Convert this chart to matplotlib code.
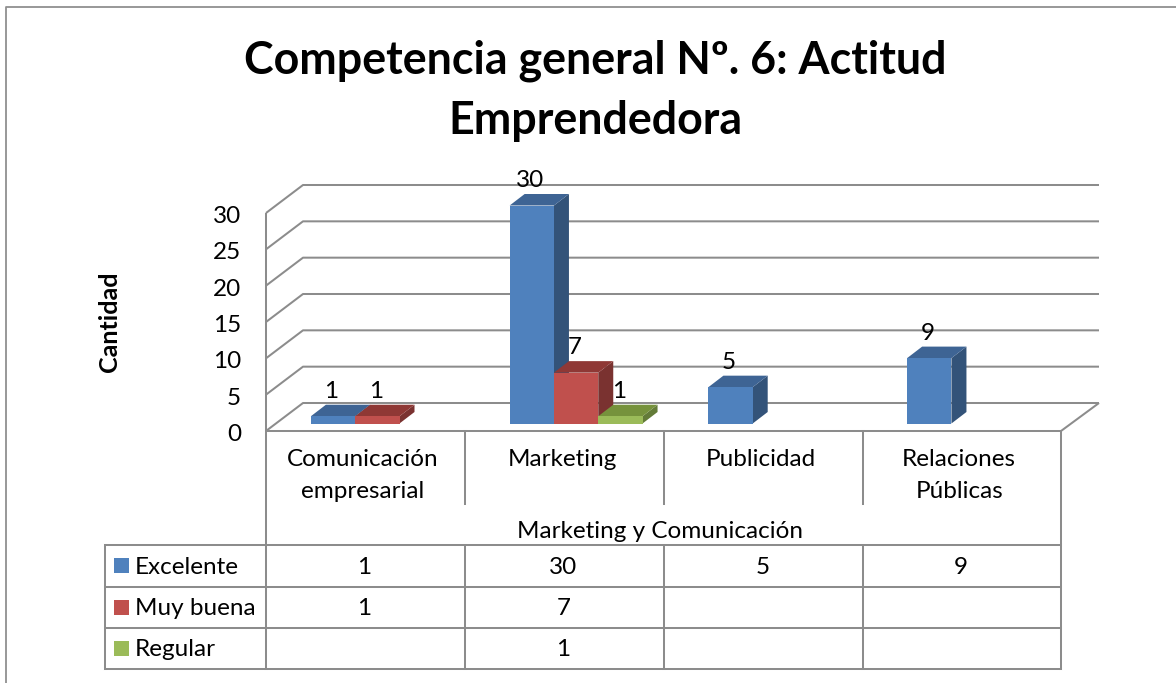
import matplotlib
matplotlib.use("Agg")
import matplotlib.pyplot as plt
from matplotlib.patches import Polygon, Rectangle

title_lines = ["Competencia general Nº. 6: Actitud", "Emprendedora"]
categories = ["Comunicación\nempresarial", "Marketing", "Publicidad", "Relaciones\nPúblicas"]
group_label = "Marketing y Comunicación"
y_label = "Cantidad"
y_ticks = [0, 5, 10, 15, 20, 25, 30]
series_names = ["Excelente", "Muy buena", "Regular"]
excelente = [1, 30, 5, 9]
muy_buena = [1, 7, None, None]
regular = [None, 1, None, None]
series_values = [excelente, muy_buena, regular]
front_colors = ["#4F81BD", "#C0504D", "#9BBB59"]
top_colors = ["#3E6494", "#8F3835", "#76923C"]
side_colors = ["#335379", "#7A3230", "#637B38"]
GRID = "#8C8C8C"
FONT = "Lato"
FS = 17.5
LW = 1.45
W, H = 1176, 683

plt.rcParams["font.family"] = FONT
fig = plt.figure(figsize=(W / 100, H / 100), dpi=100, facecolor="white")

ov = fig.add_axes([0, 0, 1, 1], zorder=1)
ov.set_xlim(0, W); ov.set_ylim(H, 0); ov.axis("off")

L, R, Y0, Y30 = 266, 1061, 431, 213
ax = fig.add_axes([L / W, 1 - Y0 / H, (R - L) / W, (Y0 - Y30) / H], zorder=2)
ax.set_xlim(0, len(categories)); ax.set_ylim(0, 30); ax.axis("off")
ax.patch.set_alpha(0)
px_x = len(categories) / (R - L)
px_y = 30 / (Y0 - Y30)
DX, DY = 37 * px_x, 28 * px_y
bx, by = 15 * px_x, 11.5 * px_y
BASE = 7.5 * px_y
BW = 44.3 * px_x
SHIFT = 0.6 * px_x

def line(xs, ys, **kw):
    ax.plot(xs, ys, color=GRID, lw=LW, clip_on=False, solid_capstyle="butt", **kw)

for t in y_ticks:
    line([0, DX, len(categories) + DX + 1 * px_x], [t, t + DY, t + DY])
    ax.text(-25 * px_x, t - 3.5 * px_y, str(t), ha="right", va="center", fontsize=FS, color="black", clip_on=False)
line([0, 0], [0, 30])
line([0, len(categories)], [0, 0])
line([len(categories), len(categories) + DX + 1 * px_x], [0, DY])

for j, vals in enumerate(series_values):
    for i, v in enumerate(vals):
        if v is None:
            continue
        x0 = i + BW * (1 + j) + SHIFT
        x1 = x0 + BW
        top = BASE + v
        ax.add_patch(Polygon([(x1, BASE), (x1 + bx, BASE + by), (x1 + bx, top + by), (x1, top)],
                             fc=side_colors[j], ec="none", clip_on=False, zorder=3 + j))
        ax.add_patch(Polygon([(x0, top), (x0 + bx, top + by), (x1 + bx, top + by), (x1, top)],
                             fc=top_colors[j], ec="none", clip_on=False, zorder=3 + j))
        ax.add_patch(Rectangle((x0, BASE), BW, v, fc=front_colors[j], ec="none",
                               clip_on=False, zorder=3 + j))
        ax.text((x0 + x1) / 2 - 1.5 * px_x, top + 25 * px_y, str(v), ha="center", va="center",
                fontsize=FS, zorder=10, clip_on=False)

# frame: left and top edges only
ov.plot([5.5, 5.5, W], [H, 7, 7], color="#909090", lw=1.3)

COLS = [104.5, 265.5, 465, 664, 862.5, 1061]
ROWS = [545, 587, 628, 669]
def tl(xs, ys):
    ov.plot(xs, ys, color=GRID, lw=LW, solid_capstyle="projecting")
for y in ROWS:
    tl([COLS[0], COLS[-1]], [y, y])
for x in [COLS[0]] + COLS[2:5]:
    tl([x, x], [ROWS[0], ROWS[-1]])
tl([COLS[1], COLS[1]], [Y0, ROWS[-1]])
tl([COLS[-1], COLS[-1]], [Y0, ROWS[-1]])
for x in COLS[2:5]:
    tl([x, x], [Y0, 504])

for i, c in enumerate(categories):
    cx = (COLS[i + 1] + COLS[i + 2]) / 2 - 2.5
    for k, part in enumerate(c.split("\n")):
        ov.text(cx, 459 + 32 * k, part, ha="center", va="center", fontsize=FS)
ov.text(660, 532, group_label, ha="center", va="center", fontsize=FS)

for r, (name, vals) in enumerate(zip(series_names, series_values)):
    mid = (ROWS[r] + ROWS[r + 1]) / 2
    ov.add_patch(Rectangle((114, mid - 8), 15, 15, fc=front_colors[r], ec="none"))
    ov.text(135, mid + 1, name, ha="left", va="center", fontsize=FS)
    for i, v in enumerate(vals):
        if v is not None:
            ov.text((COLS[i + 1] + COLS[i + 2]) / 2 - 1, mid + 1, str(v), ha="center", va="center", fontsize=FS)

for k, part in enumerate(title_lines):
    ov.text(595, 61 + 60 * k, part, ha="center", va="center", fontsize=32.2, fontweight="bold")
ov.text(109, 322, y_label, ha="center", va="center", rotation=90, fontsize=18, fontweight="bold")

fig.savefig("out.png", dpi=100)
